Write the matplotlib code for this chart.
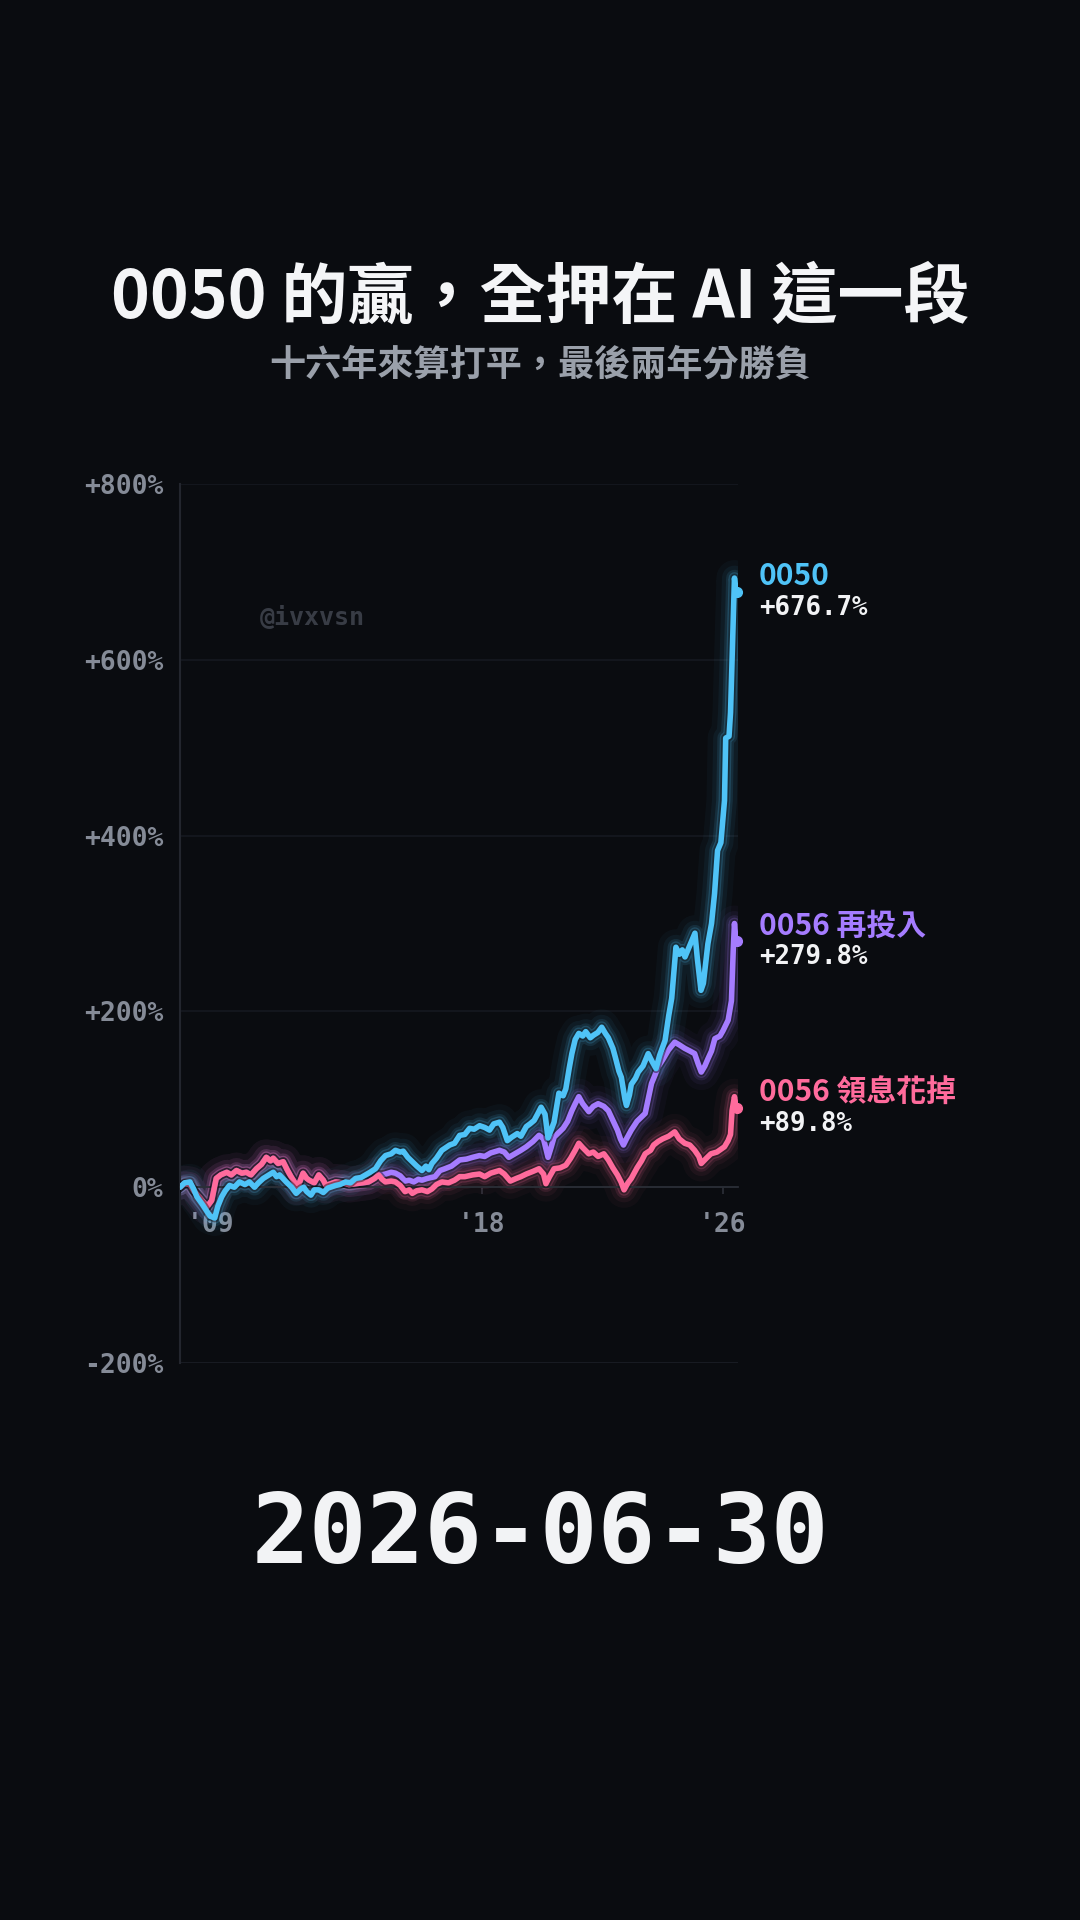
import numpy as np
import matplotlib.pyplot as plt
from matplotlib.ticker import FuncFormatter

BG = '#0a0c10'
CJK = ['Noto Sans CJK TC', 'DejaVu Sans']
MONO = 'DejaVu Sans Mono'

title = '0050 的贏，全押在 AI 這一段'
subtitle = '十六年來算打平，最後兩年分勝負'
date_label = '2026-06-30'
watermark = '@ivxvsn'

## 0050
t_0050 = [2008.00, 2008.15, 2008.33, 2008.45, 2008.56, 2008.75, 2008.90, 2009.00, 2009.15, 2009.25,
          2009.38, 2009.50, 2009.64, 2009.80, 2009.97, 2010.15, 2010.30, 2010.47, 2010.60, 2010.76,
          2010.90, 2011.09, 2011.20, 2011.30, 2011.52, 2011.70, 2011.85, 2012.00, 2012.10, 2012.20,
          2012.34, 2012.45, 2012.60, 2012.75, 2012.90, 2013.16, 2013.30, 2013.49, 2013.65, 2013.82,
          2014.00, 2014.15, 2014.30, 2014.48, 2014.65, 2014.81, 2015.00, 2015.14, 2015.30, 2015.40,
          2015.55, 2015.70, 2015.85, 2016.02, 2016.15, 2016.25, 2016.35, 2016.50, 2016.68, 2016.94,
          2017.10, 2017.27, 2017.44, 2017.60, 2017.75, 2017.93, 2018.10, 2018.26, 2018.40, 2018.59,
          2018.70, 2018.85, 2019.00, 2019.18, 2019.30, 2019.48, 2019.60, 2019.74, 2019.85, 2019.97,
          2020.10, 2020.20, 2020.30, 2020.40, 2020.50, 2020.56, 2020.70, 2020.79, 2020.90, 2020.99,
          2021.10, 2021.22, 2021.35, 2021.45, 2021.60, 2021.71, 2021.85, 2021.98, 2022.10, 2022.20,
          2022.35, 2022.43, 2022.55, 2022.63, 2022.75, 2022.80, 2022.90, 2022.96, 2023.10, 2023.19,
          2023.35, 2023.52, 2023.65, 2023.78, 2023.90, 2024.08, 2024.20, 2024.30, 2024.44, 2024.55,
          2024.65, 2024.74, 2024.90, 2025.07, 2025.15, 2025.27, 2025.35, 2025.50, 2025.62, 2025.72,
          2025.82, 2025.93, 2026.05, 2026.09, 2026.20, 2026.25, 2026.30, 2026.38, 2026.42, 2026.46]
v_0050 = [0, 5, 6, -2, -11, -20, -28, -33, -35, -22,
          -11, -4, 2, 0, 6, 3, 6, 0, 5, 10,
          13, 17, 12, 14, 6, 0, -7, -2, 0, -5,
          -9, -3, -3, -6, -1, 2, 3, 6, 5, 10,
          11, 14, 17, 21, 30, 36, 38, 42, 40, 41,
          34, 29, 24, 19, 24, 20, 27, 33, 42, 48,
          50, 59, 60, 67, 66, 70, 68, 65, 72, 74,
          68, 53, 57, 61, 58, 69, 72, 76, 83, 91,
          83, 56, 65, 74, 95, 107, 104, 112, 135, 152,
          168, 175, 172, 177, 170, 173, 176, 182, 175, 170,
          158, 148, 132, 125, 100, 93, 105, 117, 124, 131,
          138, 152, 143, 135, 150, 167, 195, 215, 273, 265,
          270, 262, 275, 289, 260, 224, 232, 277, 300, 334,
          383, 392, 440, 511, 513, 540, 599, 693, 682, 676.7]

## 0056 領息花掉
t_spend = [2008.00, 2008.15, 2008.33, 2008.45, 2008.56, 2008.75, 2008.90, 2009.05, 2009.20, 2009.35,
           2009.55, 2009.70, 2009.87, 2010.05, 2010.20, 2010.35, 2010.53, 2010.70, 2010.86, 2011.00,
           2011.09, 2011.25, 2011.42, 2011.55, 2011.68, 2011.90, 2012.08, 2012.20, 2012.28, 2012.45,
           2012.60, 2012.75, 2012.84, 2013.00, 2013.16, 2013.40, 2013.60, 2013.82, 2014.05, 2014.25,
           2014.45, 2014.58, 2014.70, 2014.81, 2015.00, 2015.14, 2015.30, 2015.46, 2015.60, 2015.70,
           2015.85, 2016.02, 2016.20, 2016.35, 2016.50, 2016.68, 2016.90, 2017.10, 2017.27, 2017.44,
           2017.70, 2017.93, 2018.10, 2018.30, 2018.59, 2018.75, 2018.95, 2019.15, 2019.30, 2019.48,
           2019.70, 2019.90, 2020.05, 2020.13, 2020.25, 2020.40, 2020.60, 2020.79, 2020.95, 2021.10,
           2021.22, 2021.35, 2021.55, 2021.70, 2021.86, 2022.05, 2022.20, 2022.35, 2022.50, 2022.62,
           2022.72, 2022.85, 2022.96, 2023.15, 2023.30, 2023.42, 2023.60, 2023.70, 2023.85, 2024.00,
           2024.20, 2024.40, 2024.55, 2024.73, 2024.90, 2025.06, 2025.20, 2025.28, 2025.45, 2025.60,
           2025.80, 2026.05, 2026.17, 2026.25, 2026.30, 2026.38, 2026.42, 2026.46]
v_spend = [0, 4, 3, -4, -8, -16, -22, -15, 10, 14,
           17, 14, 19, 16, 17, 14, 21, 26, 34, 30,
           33, 27, 29, 20, 12, 0, 16, 10, 8, 5,
           14, 8, 2, 4, 6, 5, 3, 4, 5, 6,
           10, 14, 9, 6, 7, 6, 2, -5, -3, -7,
           -4, -3, -5, -2, 3, 6, 5, 8, 12, 12,
           14, 15, 12, 16, 19, 15, 7, 10, 12, 15,
           18, 21, 15, 4, 12, 21, 22, 25, 33, 42,
           50, 45, 38, 40, 35, 38, 31, 22, 14, 6,
           -3, 5, 10, 22, 30, 38, 42, 48, 52, 55,
           58, 63, 55, 50, 48, 42, 35, 27, 33, 38,
           40, 46, 53, 60, 87, 103, 95, 89.8]

## 0056 再投入
t_reinv = [2008.00, 2008.15, 2008.33, 2008.45, 2008.56, 2008.75, 2008.90, 2009.05, 2009.20, 2009.35,
           2009.55, 2009.70, 2009.87, 2010.05, 2010.20, 2010.35, 2010.53, 2010.70, 2010.86, 2011.00,
           2011.09, 2011.25, 2011.42, 2011.55, 2011.68, 2011.90, 2012.08, 2012.20, 2012.28, 2012.45,
           2012.60, 2012.75, 2012.84, 2013.00, 2013.16, 2013.40, 2013.60, 2013.82, 2014.05, 2014.25,
           2014.45, 2014.58, 2014.70, 2014.81, 2015.00, 2015.14, 2015.30, 2015.46, 2015.60, 2015.75,
           2015.90, 2016.02, 2016.20, 2016.45, 2016.62, 2016.78, 2017.00, 2017.27, 2017.50, 2017.70,
           2017.93, 2018.10, 2018.30, 2018.59, 2018.75, 2018.90, 2019.10, 2019.30, 2019.48, 2019.70,
           2019.90, 2020.05, 2020.20, 2020.30, 2020.40, 2020.55, 2020.70, 2020.85, 2020.99, 2021.10,
           2021.22, 2021.35, 2021.55, 2021.70, 2021.86, 2022.05, 2022.20, 2022.35, 2022.50, 2022.60,
           2022.70, 2022.80, 2022.96, 2023.15, 2023.30, 2023.42, 2023.55, 2023.63, 2023.75, 2023.85,
           2024.00, 2024.19, 2024.40, 2024.55, 2024.73, 2024.90, 2025.06, 2025.18, 2025.28, 2025.40,
           2025.50, 2025.62, 2025.73, 2025.90, 2026.00, 2026.17, 2026.28, 2026.34, 2026.38, 2026.42,
           2026.46]
v_reinv = [0, 4, 3, -4, -8, -16, -22, -15, 10, 14,
           17, 14, 19, 16, 17, 14, 21, 26, 34, 30,
           33, 27, 29, 20, 12, 0, 16, 10, 8, 5,
           14, 8, 2, 4, 6, 5, 3, 4, 5, 6,
           10, 15, 14, 15, 17, 16, 13, 7, 8, 6,
           9, 8, 10, 12, 19, 21, 24, 31, 32, 34,
           36, 35, 39, 42, 40, 34, 38, 42, 46, 52,
           59, 55, 34, 45, 57, 62, 67, 75, 87, 95,
           103, 95, 86, 92, 95, 92, 87, 76, 65, 55,
           48, 55, 65, 75, 80, 84, 105, 118, 128, 137,
           145, 156, 165, 162, 158, 155, 152, 140, 131, 138,
           146, 155, 169, 172, 178, 190, 212, 270, 300, 285,
           279.8]

series = [
    ('0056 再投入', t_reinv, v_reinv, '#a57cff'),
    ('0056 領息花掉', t_spend, v_spend, '#ff6b9c'),
    ('0050', t_0050, v_0050, '#4fc3f7'),
]

yticks = [-200, 0, 200, 400, 600, 800]
xticks = [2009, 2018, 2026]
xticklabels = ["'09", "'18", "'26"]

fig = plt.figure(figsize=(10.8, 19.2), dpi=100, facecolor=BG)
ax = fig.add_axes([0.1667, 0.2901, 0.5167, 0.4578])
ax.set_facecolor(BG)

for name, t, v, col in series:
    t = np.array(t)
    v = np.array(v)
    # glow
    for lw, a in [(26, 0.035), (18, 0.06), (12, 0.11), (8.5, 0.2)]:
        ax.plot(t, v, color=col, lw=lw, alpha=a, solid_capstyle='round',
                solid_joinstyle='round', zorder=2)
    ax.plot(t, v, color=BG, lw=6.5, alpha=0.45, solid_joinstyle='round', zorder=3)
    ax.plot(t, v, color=col, lw=4, solid_joinstyle='round', solid_capstyle='round', zorder=3)
    ax.plot(t[-1], v[-1], 'o', color=col, ms=7, zorder=4, clip_on=False)
    ax.annotate(name, xy=(t[-1], v[-1]), xytext=(16, 11.5), textcoords='offset points',
                color=col, fontsize=21.5, fontweight='bold', family=CJK,
                va='center', ha='left', annotation_clip=False)
    ax.annotate('+%.1f%%' % v[-1], xy=(t[-1], v[-1]), xytext=(16, -11.5),
                textcoords='offset points', color='#f2f3f5', fontsize=18.5,
                fontweight='bold', family=MONO, va='center', ha='left',
                annotation_clip=False)

ax.set_xlim(2008.0, 2026.5)
ax.set_ylim(-200, 800)

# spine position first (it resets the ticks)
ax.spines['top'].set_visible(False)
ax.spines['right'].set_visible(False)
ax.spines['left'].set_color('#23262e')
ax.spines['left'].set_linewidth(1.5)
ax.spines['bottom'].set_position(('data', 0))
ax.spines['bottom'].set_color('#2a2e36')
ax.spines['bottom'].set_linewidth(1.3)
ax.axhline(-200, color='#2a2e36', lw=2, zorder=1)

ax.set_yticks(yticks)
ax.yaxis.set_major_formatter(FuncFormatter(lambda y, p: '0%' if y == 0 else ('%+d%%' % y)))
ax.set_xticks(xticks)
ax.set_xticklabels(xticklabels)

ax.tick_params(axis='y', length=0, pad=12, labelsize=19, labelcolor='#858b97')
ax.tick_params(axis='x', length=5, width=1.2, color='#2c3038', pad=13,
               labelsize=19, labelcolor='#858b97')
for lab in ax.get_xticklabels() + ax.get_yticklabels():
    lab.set_family(MONO)
    lab.set_fontweight('bold')

ax.grid(axis='y', color='#161920', lw=1.2, zorder=0)

ax.text(0.143, 0.848, watermark, transform=ax.transAxes, color='#383c45',
        fontsize=18, fontweight='bold', family=MONO, va='center', ha='left')

fig.text(0.5, 1 - 298 / 1920, title, color='#f4f5f7', fontsize=47.5, fontweight='bold',
         family=CJK, ha='center', va='center')
fig.text(0.5, 1 - 365 / 1920, subtitle, color='#9aa0aa', fontsize=26, fontweight='bold',
         family=CJK, ha='center', va='center')
fig.text(0.5, 1 - 1537 / 1920, date_label, color='#f2f3f5', fontsize=69, fontweight='bold',
         family=MONO, ha='center', va='center')

fig.savefig('out.png', dpi=100, facecolor=BG)
